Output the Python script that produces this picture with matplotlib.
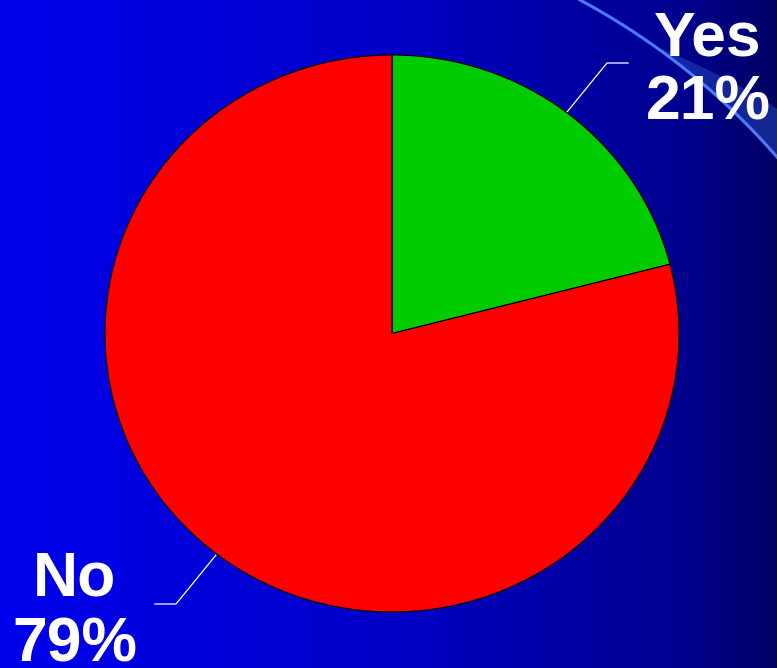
import numpy as np
import matplotlib.pyplot as plt
from matplotlib.patches import Polygon

labels = ['Yes', 'No']
values = [21, 79]
colors = ['#00CC00', '#FF0000']

W, H = 777, 668
fig = plt.figure(figsize=(W / 100, H / 100), dpi=100)

# background gradient (left bright blue -> right dark navy)
bg = fig.add_axes([0, 0, 1, 1])
xs = np.arange(W)
blue = np.interp(xs, [0, 390, 690, 777], [235, 200, 140, 100]) / 255
img = np.zeros((1, W, 3))
img[0, :, 2] = blue
bg.imshow(img, aspect='auto', extent=[0, W, H, 0])
bg.set_xlim(0, W)
bg.set_ylim(H, 0)
bg.axis('off')

# decorative arc in top-right corner
p1, p2, p3 = np.array([580, 0]), np.array([650, 43]), np.array([777, 157])
A = 2 * np.array([p2 - p1, p3 - p1])
b = np.array([p2 @ p2 - p1 @ p1, p3 @ p3 - p1 @ p1])
cen = np.linalg.solve(A, b)
r = np.linalg.norm(p1 - cen)
a1 = np.arctan2(*(p1 - cen)[::-1])
a3 = np.arctan2(*(p3 - cen)[::-1])
t = np.linspace(a1, a3 + 0.02, 200)
# band above the line, widening towards the right
tb = np.linspace(a1 + (a3 - a1) * 0.35, a3 + 0.02, 100)
wb = np.linspace(0, 45, 100)
bx = cen[0] + (r + wb) * np.cos(tb)
by = cen[1] + (r + wb) * np.sin(tb)
lx = cen[0] + r * np.cos(tb)
ly = cen[1] + r * np.sin(tb)
band = Polygon(np.column_stack([np.r_[lx, bx[::-1]], np.r_[ly, by[::-1]]]),
               closed=True, facecolor='#3060D0', alpha=0.4, edgecolor='none')
bg.add_patch(band)
bg.plot(cen[0] + r * np.cos(t), cen[1] + r * np.sin(t), color='#4A7BFF', lw=2.2)

# leader lines
bg.plot([567, 607, 628], [112, 63, 63], color='white', lw=0.9)
bg.plot([216, 176, 155], [555, 604, 604], color='white', lw=0.9)

# pie
ax = fig.add_axes([105 / W, (H - 612) / H, 574 / W, 557 / H])
ax.pie(values, colors=colors, startangle=90, counterclock=False,
       wedgeprops=dict(edgecolor='black', linewidth=0.8))
ax.set_aspect('auto')
ax.set_xlim(-1, 1)
ax.set_ylim(-1, 1)
ax.axis('off')

# labels
font = dict(family='Liberation Sans', weight='bold', size=45, color='white',
            ha='center', va='baseline')
pos = {'Yes': (708, 55, 120), 'No': (75, 595, 662)}
for lab, val in zip(labels, values):
    x, y1, y2 = pos[lab]
    bg.text(x, y1, lab, **font)
    bg.text(x, y2, f'{val}%', **font)

fig.savefig('out.png', dpi=100)
